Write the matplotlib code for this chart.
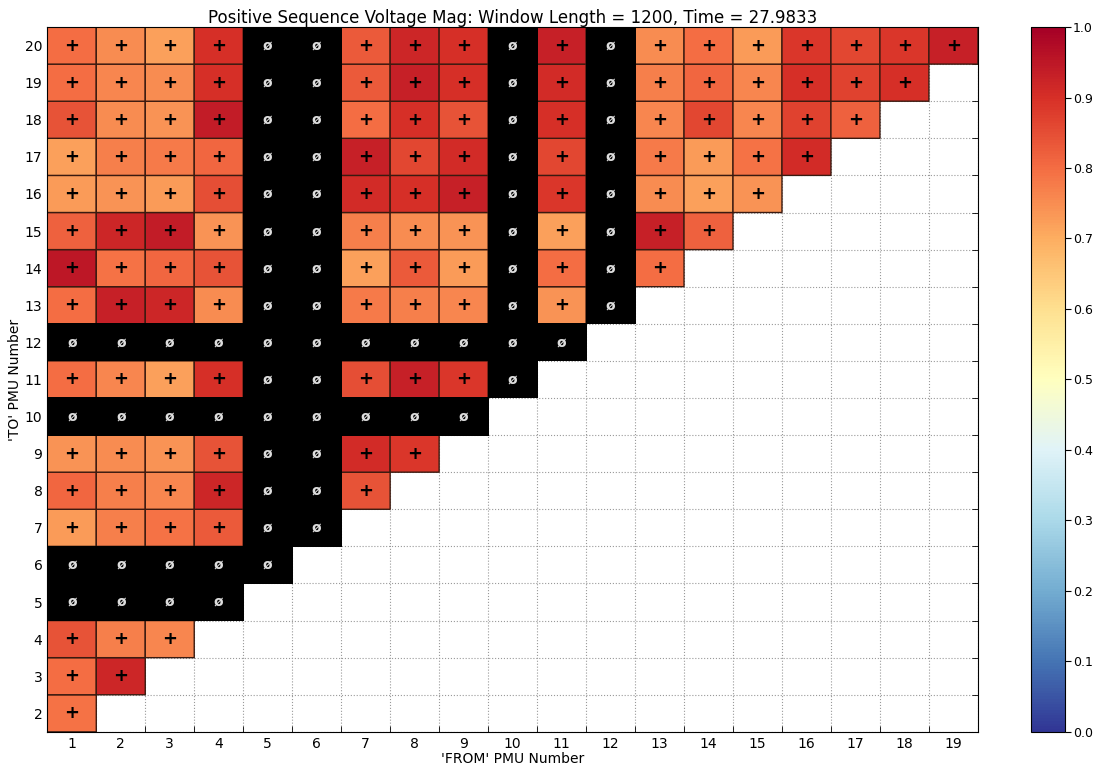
import numpy as np
import matplotlib.pyplot as plt
from matplotlib.colors import ListedColormap

# PMU numbering
from_pmus = list(range(1, 20))
to_pmus = list(range(2, 21))
bad_pmus = [5, 6, 10, 12]

# coherence values per 'TO' row, for each good 'FROM' PMU below it
row_vals = {
    20: [0.80, 0.75, 0.72, 0.90, 0.83, 0.92, 0.90, 0.93, 0.75, 0.80, 0.73, 0.89, 0.86, 0.89, 0.93],
    19: [0.80, 0.76, 0.75, 0.90, 0.83, 0.93, 0.90, 0.91, 0.77, 0.81, 0.76, 0.90, 0.87, 0.90],
    18: [0.84, 0.75, 0.74, 0.94, 0.80, 0.90, 0.84, 0.90, 0.76, 0.86, 0.76, 0.87, 0.82],
    17: [0.72, 0.77, 0.78, 0.81, 0.93, 0.86, 0.91, 0.86, 0.78, 0.73, 0.79, 0.91],
    16: [0.73, 0.74, 0.73, 0.85, 0.91, 0.90, 0.93, 0.89, 0.75, 0.72, 0.74],
    15: [0.82, 0.92, 0.94, 0.74, 0.77, 0.75, 0.74, 0.72, 0.93, 0.82],
    14: [0.95, 0.79, 0.81, 0.84, 0.72, 0.83, 0.73, 0.80, 0.80],
    13: [0.80, 0.93, 0.92, 0.75, 0.78, 0.77, 0.76, 0.74],
    11: [0.80, 0.76, 0.72, 0.90, 0.85, 0.93, 0.89],
    9: [0.74, 0.75, 0.74, 0.84, 0.91, 0.89],
    8: [0.81, 0.77, 0.76, 0.92, 0.84],
    7: [0.73, 0.77, 0.79, 0.83],
    4: [0.84, 0.77, 0.76],
    3: [0.80, 0.92],
    2: [0.79],
}

nx, ny = len(from_pmus), len(to_pmus)
vals = np.full((ny, nx), np.nan)
bad = np.full((ny, nx), np.nan)
for i, t in enumerate(to_pmus):
    good = [f for f in from_pmus if f < t and f not in bad_pmus and t not in bad_pmus]
    for f, v in zip(good, row_vals.get(t, [])):
        vals[i, f - 1] = v
    for f in from_pmus:
        if f < t and (f in bad_pmus or t in bad_pmus):
            bad[i, f - 1] = 1

fig = plt.figure(figsize=(11, 7.72), dpi=100)
ax = fig.add_axes([0.043, 0.052, 0.846, 0.913])
cax = fig.add_axes([0.937, 0.052, 0.031, 0.913])

xe = np.arange(0.5, nx + 1.5)
ye = np.arange(1.5, ny + 2.5)
pc = ax.pcolor(xe, ye, np.ma.masked_invalid(vals), cmap='RdYlBu_r', vmin=0, vmax=1,
               edgecolors='#3a1a10', linewidth=1, zorder=2)
ax.pcolor(xe, ye, np.ma.masked_invalid(bad), cmap=ListedColormap(['black']),
          edgecolors='none', zorder=2)

for i, t in enumerate(to_pmus):
    for j, f in enumerate(from_pmus):
        if not np.isnan(vals[i, j]):
            ax.text(f, t, '+', ha='center', va='center', fontsize=13, fontweight='bold',
                    color='black', zorder=3)
        elif not np.isnan(bad[i, j]):
            ax.text(f, t, '\u00f8', ha='center', va='center', fontsize=10, fontweight='bold',
                    color='#dddddd', zorder=3)

ax.set_xlim(0.5, nx + 0.5)
ax.set_ylim(1.5, ny + 1.5)
ax.set_xticks(from_pmus)
ax.set_yticks(to_pmus)
ax.set_xticks(xe, minor=True)
ax.set_yticks(ye, minor=True)
ax.tick_params(which='major', length=0, labelsize=10)
ax.tick_params(which='minor', length=4, direction='in', top=True, right=True)
ax.grid(which='minor', linestyle=':', color='#999999', linewidth=0.8, zorder=0)
ax.set_axisbelow(True)

ax.set_title('Positive Sequence Voltage Mag: Window Length = 1200, Time = 27.9833', fontsize=12, pad=3)
ax.set_xlabel("'FROM' PMU Number", fontsize=10, labelpad=1)
ax.set_ylabel("'TO' PMU Number", fontsize=10, labelpad=2)

cb = fig.colorbar(pc, cax=cax, ticks=np.linspace(0, 1, 11))
cb.ax.tick_params(labelsize=9, length=4, pad=2)

fig.savefig('out.png', dpi=100)
